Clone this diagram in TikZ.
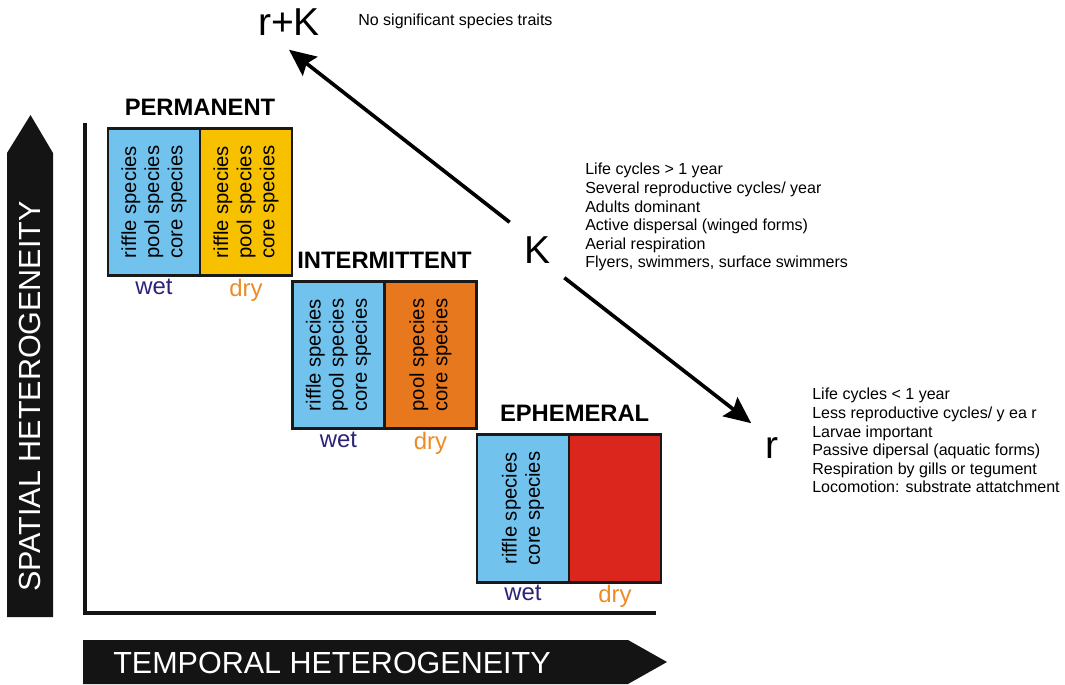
\documentclass[tikz,border=0pt]{standalone}
\usepackage{fontspec}
\setmainfont{Liberation Sans}
\usetikzlibrary{arrows.meta,positioning}
\definecolor{wetblue}{HTML}{72C2EE}
\definecolor{permyellow}{HTML}{F7C100}
\definecolor{intorange}{HTML}{E8781E}
\definecolor{ephred}{HTML}{DA261C}
\definecolor{wetink}{HTML}{2B237A}
\definecolor{dryink}{HTML}{EE8A26}
\colorlet{axisblack}{black!92}

\begin{document}
\begin{tikzpicture}[x=0.025cm,y=-0.025cm,
  cell/.style={draw=black!90,line width=2pt,minimum width=2.3cm,minimum height=3.68cm,inner sep=0pt,outer sep=0pt},
  celltext/.style={rotate=90,align=center,inner sep=0pt,font=\fontsize{14.4}{16.4}\selectfont},
  regime/.style={inner sep=0pt,font=\fontsize{16.9}{18}\selectfont\bfseries},
  wetlabel/.style={inner sep=0pt,text=wetink,font=\fontsize{17}{18}\selectfont},
  drylabel/.style={inner sep=0pt,text=dryink,font=\fontsize{17}{18}\selectfont},
  axislabel/.style={inner sep=0pt,text=white,font=\fontsize{21.7}{23}\selectfont},
  strategy/.style={inner sep=10pt,font=\fontsize{27.7}{30}\selectfont},
  traits/.style={inner sep=0pt,align=left,font=\fontsize{11.4}{13.2}\selectfont},
  strategyarrow/.style={-{Stealth[length=19pt,width=17pt,inset=3pt]},line width=2.6pt}]
\useasboundingbox (0,0) rectangle (1065,684);

% axes
\fill[axisblack] (7,617) -- (7,153) -- (30.5,115) -- (53,153) -- (53,617) -- cycle;
\node[axislabel,rotate=90,anchor=west] (spatial) at (30,592) {SPATIAL HETEROGENEITY};
\fill[axisblack] (83,640) -- (628,640) -- (667,662) -- (628,684) -- (83,684) -- cycle;
\node[axislabel,anchor=west] (temporal) at (113,663) {TEMPORAL HETEROGENEITY};
\draw[line width=2.5pt,axisblack] (85,123) -- (85,613) -- (656,613);

% permanent
\node[cell,fill=wetblue] (pw) at (154,202) {};
\node[cell,fill=permyellow,right=0pt of pw] (pd) {};
\node[celltext] (pwtext) at (pw) {riffle species\\pool species\\core species};
\node[celltext] (pdtext) at (pd) {riffle species\\pool species\\core species};
\node[regime,above=9pt of pw.north east] (permanent) {PERMANENT};
\node[wetlabel,below=2pt of pw] (pwlabel) {wet};
\node[drylabel,below=2pt of pd] (pdlabel) {dry};

% intermittent
\node[cell,fill=wetblue] (iw) at (338.5,355) {};
\node[cell,fill=intorange,right=0pt of iw] (id) {};
\node[celltext] (iwtext) at (iw) {riffle species\\pool species\\core species};
\node[celltext] (idtext) at (id) {pool species\\core species};
\node[regime,above=9pt of iw.north east] (intermittent) {INTERMITTENT};
\node[wetlabel,below=2pt of iw] (iwlabel) {wet};
\node[drylabel,below=2pt of id] (idlabel) {dry};

% ephemeral
\node[cell,fill=wetblue] (ew) at (523,508.5) {};
\node[cell,fill=ephred,right=0pt of ew] (ed) {};
\node[celltext] (ewtext) at (ew) {riffle species\\core species};
\node[regime,above=9pt of ew.north east,xshift=4pt] (ephemeral) {EPHEMERAL};
\node[wetlabel,below=2pt of ew] (ewlabel) {wet};
\node[drylabel,below=2pt of ed] (edlabel) {dry};

% strategies
\node[strategy] (rK) at (289,22) {r+K};
\node[strategy] (K) at (537,250) {K};
\node[strategy] (r) at (772,448) {r};
\draw[strategyarrow] (K.north west) -- (rK.south);
\draw[strategyarrow] (K.south east) -- (r.north west);
\node[traits,anchor=west] (rKtraits) at (358,21) {No significant species traits};
\node[traits,anchor=north west] (Ktraits) at (585,163) {Life cycles > 1 year\\Several reproductive cycles/ year\\Adults dominant\\Active dispersal (winged forms)\\Aerial respiration\\Flyers, swimmers, surface swimmers};
\node[traits,anchor=north west] (rtraits) at (812,388) {Life cycles < 1 year\\Less reproductive cycles/ y ea r\\Larvae important\\Passive dipersal (aquatic forms)\\Respiration by gills or tegument\\Locomotion: substrate attatchment};
\end{tikzpicture}
\end{document}
